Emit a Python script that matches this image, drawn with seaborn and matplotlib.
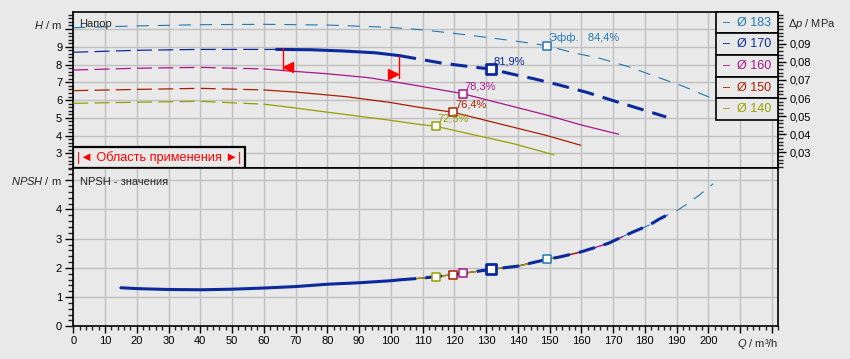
import seaborn as sns
import matplotlib.pyplot as plt
from matplotlib.patches import Rectangle
from matplotlib.ticker import MultipleLocator

# --- data ---
diameters = ['183', '170', '160', '150', '140']
colors = ['#1f78b4', '#0a2a9c', '#a8148c', '#a82000', '#96a000']

# head curves H(Q), Q in m3/h, H in m
q_183 = [0, 20, 40, 60, 80, 100, 110, 120, 130, 140, 149.1, 157, 166, 175, 183, 192, 201.8]
h_183 = [10.07, 10.17, 10.24, 10.26, 10.22, 10.09, 9.95, 9.75, 9.53, 9.3, 9.06, 8.68, 8.34, 7.87, 7.35, 6.78, 6.05]
q_170 = [0, 20, 40, 64, 75, 85, 95, 102.7, 116, 124, 131.6, 138, 145, 153, 162, 170, 178, 186.7]
h_170 = [8.69, 8.8, 8.85, 8.85, 8.83, 8.76, 8.66, 8.5, 8.08, 7.9, 7.74, 7.47, 7.2, 6.85, 6.42, 5.97, 5.53, 5.05]
q_160 = [0, 20, 40, 60, 67, 80, 93, 102, 109, 122.6, 149, 160, 171.7]
h_160 = [7.69, 7.79, 7.84, 7.75, 7.65, 7.48, 7.26, 7.0, 6.79, 6.36, 5.16, 4.6, 4.08]
q_150 = [0, 20, 40, 60, 70, 86, 100, 109, 119.7, 148.6, 159.8]
h_150 = [6.53, 6.6, 6.66, 6.57, 6.45, 6.19, 5.86, 5.59, 5.31, 4.03, 3.46]
q_140 = [0, 20, 40, 60, 68, 80, 100, 109, 114.1, 125.5, 138.6, 151.4]
h_140 = [5.82, 5.88, 5.93, 5.77, 5.6, 5.32, 4.86, 4.63, 4.53, 4.07, 3.55, 2.92]

# best efficiency points
bep_q = [149.1, 131.6, 122.6, 119.7, 114.1]
bep_h = [9.06, 7.74, 6.36, 5.31, 4.53]
bep_npsh = [2.29, 1.95, 1.81, 1.77, 1.70]
bep_eff = ['Эфф.   84,4%', '81,9%', '78,3%', '76,4%', '72,5%']

# NPSH required curve
npsh_q = [15, 20, 30, 40, 50, 60, 70, 80, 90, 100, 102.7, 110, 114.1, 119.7, 122.6, 131.6, 140,
          149.1, 153, 157, 160, 168.5, 173, 176.5, 181.5, 184.5, 186.7, 190, 193, 197, 201.5]
npsh_v = [1.32, 1.29, 1.26, 1.25, 1.27, 1.31, 1.36, 1.44, 1.49, 1.56, 1.59, 1.65, 1.70, 1.77, 1.81, 1.95, 2.06,
          2.29, 2.37, 2.47, 2.55, 2.84, 3.07, 3.24, 3.47, 3.67, 3.79, 3.95, 4.17, 4.48, 4.88]
npsh_qmax = [201.5, 186.7, 173, 160, 153]

# operating range markers
range_q = [66.2, 102.7]
range_top = [8.91, 8.48]
range_bottom = [7.69, 7.22]
arrow_q = [67.5, 100.8]
arrow_h = [7.84, 7.45]

dp_ticks = [0.03, 0.04, 0.05, 0.06, 0.07, 0.08, 0.09]
RHO_G = 0.00981  # MPa per m of water

BG = '#e9e9e9'
GRID = '#c0c0c0'
FS = 8

sns.set_style('white', {'axes.facecolor': BG, 'figure.facecolor': BG})
plt.rcParams['font.family'] = ['Liberation Sans', 'DejaVu Sans']
plt.rcParams['mathtext.fontset'] = 'custom'
plt.rcParams['mathtext.rm'] = 'Liberation Sans'
plt.rcParams['mathtext.it'] = 'Liberation Sans:italic'

fig = plt.figure(figsize=(8.5, 3.59), dpi=100)
ax_top = fig.add_axes([0.0862, 0.532, 0.8294, 0.4354])
ax_bot = fig.add_axes([0.0862, 0.0911, 0.8294, 0.441])

THIN = 0.9
THICK = 2.2
DASH_THIN = (0, (12, 5))
DASH_183 = (0, (11, 8))
DASH_THICK = (0, (5.5, 3.0))


def seg(q, v, lo, hi):
    pts = [(a, b) for a, b in zip(q, v) if lo <= a <= hi]
    return [p[0] for p in pts], [p[1] for p in pts]


def line(ax, q, v, color, lw, ls, z=3):
    sns.lineplot(x=q, y=v, ax=ax, color=color, lw=lw, linestyle=ls, sort=False,
                 estimator=None, legend=False, zorder=z)


# --- head curves ---
line(ax_top, q_183, h_183, colors[0], 0.8, DASH_183)
for q, h, c in [(q_160, h_160, colors[2]), (q_150, h_150, colors[3]), (q_140, h_140, colors[4])]:
    line(ax_top, *seg(q, h, 0, 60), c, THIN, DASH_THIN)
    line(ax_top, *seg(q, h, 60, 999), c, THIN, '-')
line(ax_top, *seg(q_170, h_170, 0, 64), colors[1], THIN, DASH_THIN)
line(ax_top, *seg(q_170, h_170, 64, 102.7), colors[1], THICK, '-', z=4)
line(ax_top, *seg(q_170, h_170, 102.7, 999), colors[1], THICK, DASH_THICK, z=4)

# operating range
for q, t, b in zip(range_q, range_top, range_bottom):
    sns.lineplot(x=[q, q], y=[b, t], ax=ax_top, color='red', lw=1.0, estimator=None,
                 sort=False, legend=False, zorder=5)
ax_top.plot(arrow_q[0], arrow_h[0], marker='<', color='red', ms=7, zorder=6)
ax_top.plot(arrow_q[1], arrow_h[1], marker='>', color='red', ms=7, zorder=6)

# efficiency points
for i, c in enumerate(colors):
    big = i == 1
    for ax, y in [(ax_top, bep_h[i]), (ax_bot, bep_npsh[i])]:
        sns.scatterplot(x=[bep_q[i]], y=[y], ax=ax, marker='s', s=42 if big else 26,
                        color='white', edgecolor=c, linewidth=2.0 if big else 1.1, zorder=7,
                        legend=False)
    ax_top.annotate(bep_eff[i], (bep_q[i], bep_h[i]), xytext=(1.5, 5.5), textcoords='offset points',
                    color=c, fontsize=FS, ha='left', va='center', zorder=8)

# --- NPSH curves ---
line(ax_bot, *seg(npsh_q, npsh_v, 140, npsh_qmax[0]), colors[0], 0.8, DASH_183)
for i in [2, 3, 4]:
    line(ax_bot, *seg(npsh_q, npsh_v, 100, npsh_qmax[i]), colors[i], THIN, '-')
line(ax_bot, *seg(npsh_q, npsh_v, 0, 102.7), colors[1], THICK, '-', z=4)
line(ax_bot, *seg(npsh_q, npsh_v, 102.7, npsh_qmax[1]), colors[1], THICK, DASH_THICK, z=4)

# --- axes styling ---
tick_kw = dict(direction='out', colors='black', width=1.0, labelsize=FS, pad=2)
for ax in (ax_top, ax_bot):
    ax.set_xlim(0, 222)
    ax.set_xticks(range(0, 221, 10))
    ax.xaxis.set_minor_locator(MultipleLocator(2))
    ax.yaxis.set_minor_locator(MultipleLocator(0.2))
    ax.grid(True, which='major', color=GRID, lw=1.0)
    ax.set_axisbelow(True)
    ax.set_xlabel('')
    ax.set_ylabel('')
    for s in ax.spines.values():
        s.set_visible(True)
        s.set_color('black')
        s.set_linewidth(1.2)
    ax.tick_params(axis='y', which='major', length=6, left=True, **tick_kw)
    ax.tick_params(axis='y', which='minor', length=3.5, left=True, width=1.0)

ax_top.set_ylim(2.18, 10.97)
ax_top.set_yticks(range(3, 11))
ax_top.set_yticklabels([str(v) for v in range(3, 10)] + [''])
ax_top.tick_params(axis='x', which='both', length=0, labelbottom=False)

ax_bot.set_ylim(0, 5.42)
ax_bot.set_yticks(range(0, 6))
ax_bot.set_yticklabels([str(v) for v in range(0, 5)] + [''])
ax_bot.set_xticklabels([str(v) if v <= 200 else '' for v in range(0, 221, 10)])
ax_bot.tick_params(axis='x', which='major', length=5, bottom=True, **tick_kw)
ax_bot.tick_params(axis='x', which='minor', length=3, bottom=True, width=1.0)

sec = ax_top.secondary_yaxis('right', functions=(lambda h: h * RHO_G, lambda p: p / RHO_G))
sec.set_yticks(dp_ticks)
sec.set_yticklabels([f'{v:.2f}'.replace('.', ',') for v in dp_ticks])
sec.yaxis.set_minor_locator(MultipleLocator(0.002))
sec.tick_params(axis='y', which='major', length=6, right=True, **tick_kw)
sec.tick_params(axis='y', which='minor', length=3.5, right=True, width=1.0)
sec.spines['right'].set_linewidth(1.2)

# axis captions
ax_top.text(-0.016, 0.915, r'$H$ / m', transform=ax_top.transAxes, ha='right', va='center', fontsize=FS)
ax_bot.text(-0.016, 0.918, r'$NPSH$ / m', transform=ax_bot.transAxes, ha='right', va='center', fontsize=FS)
ax_top.text(1.014, 0.919, r'$\Delta p$ / MPa', transform=ax_top.transAxes, ha='left', va='center', fontsize=FS)
ax_bot.text(0.971, -0.112, r'$Q$ / m³/h', transform=ax_bot.transAxes, ha='center', va='center', fontsize=FS)
ax_top.text(0.009, 0.919, 'Напор', transform=ax_top.transAxes, ha='left', va='center', fontsize=FS)
ax_bot.text(0.009, 0.913, 'NPSH - значения', transform=ax_bot.transAxes, ha='left', va='center', fontsize=FS)

# operating range box
ax_top.add_patch(Rectangle((0, 0), 0.244, 0.1376, transform=ax_top.transAxes, fc=BG, ec='black',
                           lw=1.6, zorder=9))
ax_top.text(0.122, 0.066, '|◄ Область применения ►|', transform=ax_top.transAxes, ha='center',
            va='center', color='red', fontsize=9.2, zorder=10)

# legend as boxed rows
tbl = ax_top.table(cellText=[[f'–  Ø {d}'] for d in diameters], cellLoc='center',
                   bbox=[0.911, 0.307, 0.089, 0.693])
tbl.auto_set_font_size(False)
tbl.set_fontsize(9)
tbl.set_zorder(10)
for i, c in enumerate(colors):
    cell = tbl[(i, 0)]
    cell.set_facecolor(BG)
    cell.set_edgecolor('black')
    cell.set_linewidth(1.2)
    cell.get_text().set_color(c)

fig.savefig('out.png', dpi=100, facecolor=BG)
